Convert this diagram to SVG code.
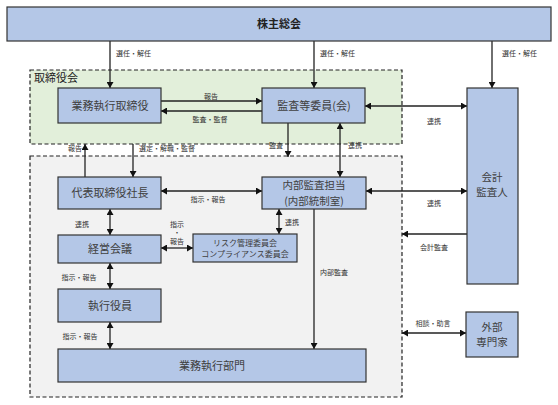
<svg xmlns="http://www.w3.org/2000/svg" width="558" height="405" viewBox="0 0 558 405">
<defs>
<marker id="ah" markerUnits="userSpaceOnUse" markerWidth="7" markerHeight="7" refX="6" refY="3.5" orient="auto-start-reverse">
<path d="M0,0 L6,3.5 L0,7 z" fill="#111"/>
</marker>
<style>
.box{fill:#B4C7E7;stroke:#333;stroke-width:1.2}
.bt{font-family:"Noto Sans CJK JP","Noto Sans",sans-serif;font-size:11px;fill:#404040;text-anchor:middle}
.bt2{font-family:"Noto Sans CJK JP","Noto Sans",sans-serif;font-size:10.5px;fill:#404040;text-anchor:middle}
.bt3{font-family:"Noto Sans CJK JP","Noto Sans",sans-serif;font-size:8px;fill:#404040;text-anchor:middle}
.lb{font-family:"Noto Sans CJK JP","Noto Sans",sans-serif;font-size:7px;fill:#333}
.lbc{font-family:"Noto Sans CJK JP","Noto Sans",sans-serif;font-size:7px;fill:#333;text-anchor:middle}
.c{fill:none;stroke:#222;stroke-width:1.3}
.e{marker-end:url(#ah)}
.b{marker-start:url(#ah);marker-end:url(#ah)}
</style>
</defs>
<rect width="558" height="405" fill="#fff"/>
<g id="board">
<rect x="30" y="70" width="372" height="74" fill="#E2EFDA" stroke="#222" stroke-width="1.2" stroke-dasharray="4,2.5"/>
<text x="34" y="81.5" font-family="'Noto Sans CJK JP',sans-serif" font-size="11" fill="#222">取締役会</text>
</g>
<g id="execarea">
<rect x="30" y="156" width="372" height="241" fill="#F2F2F2" stroke="#222" stroke-width="1.2" stroke-dasharray="4,2.5"/>
</g>
<g id="connectors">
<path class="c e" d="M110,41 V88"/>
<path class="c e" d="M314,41 V88"/>
<path class="c e" d="M492,41 V88"/>
<path class="c e" d="M161,101 H262"/>
<path class="c e" d="M262,111 H161"/>
<path class="c b" d="M365,106 H467"/>
<path class="c e" d="M85,177 V144"/>
<path class="c e" d="M133,144 V177"/>
<path class="c e" d="M288,123 V157"/>
<path class="c b" d="M340,123 V177"/>
<path class="c b" d="M161,191 H262"/>
<path class="c b" d="M366,191 H467"/>
<path class="c e" d="M467,234 H402"/>
<path class="c b" d="M110,209 V235"/>
<path class="c b" d="M161,248 H193"/>
<path class="c b" d="M279,209 V234"/>
<path class="c e" d="M314,209 V349"/>
<path class="c b" d="M110,263 V289"/>
<path class="c b" d="M110,322 V349"/>
<path class="c b" d="M402,333 H466"/>
<text class="lb" x="116" y="56">選任・解任</text>
<text class="lb" x="320" y="56">選任・解任</text>
<text class="lb" x="502" y="56">選任・解任</text>
<text class="lbc" x="211" y="98.5">報告</text>
<text class="lbc" x="210" y="121.5">監査・監督</text>
<text class="lbc" x="434" y="124">連携</text>
<text class="lbc" x="75" y="150.5">報告</text>
<text class="lb" x="139" y="150.5">選定・解職・監督</text>
<text class="lbc" x="276" y="147.5">監査</text>
<text class="lbc" x="355" y="147.5">連携</text>
<text class="lbc" x="208" y="201.5">指示・報告</text>
<text class="lbc" x="434" y="205.5">連携</text>
<text class="lbc" x="434" y="249.5">会計監査</text>
<text class="lbc" x="82" y="226.5">連携</text>
<text class="lbc" x="177" y="226.5">指示</text>
<text class="lbc" x="177" y="235">・</text>
<text class="lbc" x="177" y="243.5">報告</text>
<text class="lbc" x="292" y="224.5">連携</text>
<text class="lbc" x="334" y="274.5">内部監査</text>
<text class="lbc" x="79" y="279.5">指示・報告</text>
<text class="lbc" x="80" y="338.5">指示・報告</text>
<text class="lbc" x="433" y="325.5">相談・助言</text>
</g>
<g id="shareholders">
<rect class="box" x="7" y="7" width="544" height="34"/>
<text class="bt" x="279" y="28" style="font-weight:bold;fill:#222">株主総会</text>
</g>
<g id="exec-director">
<rect class="box" x="58" y="88" width="103" height="35"/>
<text class="bt" x="110" y="109.5">業務執行取締役</text>
</g>
<g id="audit-committee">
<rect class="box" x="262" y="88" width="103" height="35"/>
<text class="bt" x="314" y="109.5">監査等委員(会)</text>
</g>
<g id="accounting-auditor">
<rect class="box" x="467" y="88" width="51" height="196"/>
<text class="bt2" x="492" y="180.7">会計</text>
<text class="bt2" x="492" y="196.2">監査人</text>
</g>
<g id="president">
<rect class="box" x="58" y="177" width="103" height="32"/>
<text class="bt" x="110" y="197">代表取締役社長</text>
</g>
<g id="internal-audit">
<rect class="box" x="262" y="177" width="104" height="32"/>
<text class="bt2" x="314" y="189.2">内部監査担当</text>
<text class="bt2" x="314" y="204.7">(内部統制室)</text>
</g>
<g id="management-meeting">
<rect class="box" x="58" y="235" width="103" height="28"/>
<text class="bt" x="110" y="253">経営会議</text>
</g>
<g id="risk-committee">
<rect class="box" x="193" y="234" width="104" height="28"/>
<text class="bt3" x="245" y="245.5">リスク管理委員会</text>
<text class="bt3" x="245" y="257.2">コンプライアンス委員会</text>
</g>
<g id="executive-officers">
<rect class="box" x="58" y="289" width="103" height="33"/>
<text class="bt" x="110" y="309.5">執行役員</text>
</g>
<g id="business-dept">
<rect class="box" x="58" y="349" width="308" height="33"/>
<text class="bt" x="212" y="369.5">業務執行部門</text>
</g>
<g id="external-experts">
<rect class="box" x="466" y="312" width="52" height="45"/>
<text class="bt2" x="492" y="330.7">外部</text>
<text class="bt2" x="492" y="346.2">専門家</text>
</g>
</svg>
